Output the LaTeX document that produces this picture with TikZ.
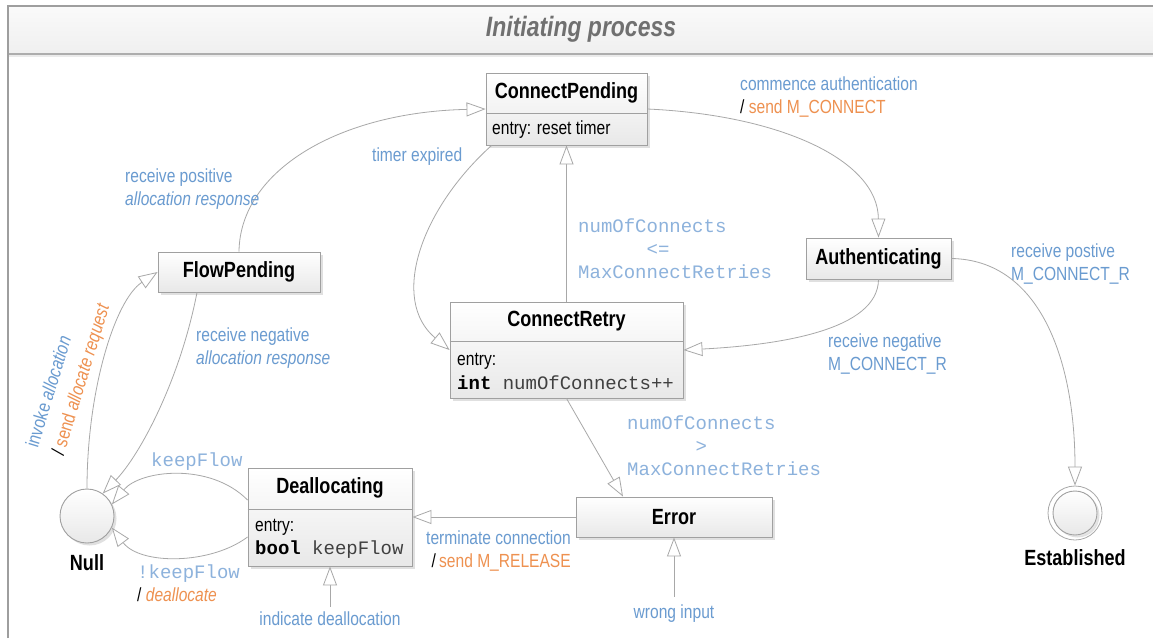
\documentclass[tikz,border=0pt]{standalone}
\usepackage{fontspec}
\setmainfont{Liberation Sans}[FakeStretch=0.82]
\setmonofont{Liberation Mono}
\usetikzlibrary{arrows.meta,shadows,calc}

\definecolor{lblue}{HTML}{6A9BD0}
\definecolor{lorange}{HTML}{EE9150}
\definecolor{mblue}{HTML}{8DB2DC}
\definecolor{lgray}{HTML}{A8A8A8}
\definecolor{bgray}{HTML}{A0A0A0}
\definecolor{tgray}{HTML}{707070}

\tikzset{
  statebox/.style={draw=bgray, line width=0.9pt, top color=white, bottom color=black!9,
    drop shadow={shadow xshift=2.5pt, shadow yshift=-2.5pt, fill=black!12, opacity=1},
    inner sep=0pt, font=\fontsize{22}{26}\selectfont\bfseries},
  sname/.style={font=\fontsize{22}{26}\selectfont\bfseries, text=black, inner sep=0pt},
  entrytxt/.style={font=\fontsize{19}{23.5}\selectfont, text=black, align=left, inner sep=0pt, anchor=west},
  lbl/.style={font=\fontsize{19}{23}\selectfont, text=lblue, align=left, inner sep=0pt},
  mlbl/.style={font=\fontsize{19}{23}\selectfont\ttfamily, text=mblue, align=left, inner sep=0pt},
  conn/.style={draw=lgray, line width=0.8pt, -{Triangle[length=19pt,width=14pt,fill=white,line width=0.8pt]}},
  divider/.style={draw=bgray, line width=0.9pt},
}

\begin{document}
\begin{tikzpicture}[x=1pt,y=-1pt]
\useasboundingbox (0,0) rectangle (1153,638);
% frame and header
\fill[white] (0,0) rectangle (1153,638);
\shade[top color=black!2, bottom color=black!6] (8,6) rectangle (1153,53);
\fill[black!8] (8,54.5) rectangle (1153,57);
\draw[black!32, line width=1.8pt] (8,54) -- (1153,54);
\draw[black!38, line width=1.2pt] (8,638) -- (8,6) -- (1153,6);
\node[font=\fontsize{28}{32}\selectfont\bfseries\itshape, text=tgray, inner sep=0pt] (title) at (581,29) {Initiating process};

% states
\node[statebox, minimum width=161pt, minimum height=72pt] (cp) at (566.5,109) {};
\node[sname] (cpt) at (566.5,93) {ConnectPending};
\draw[divider] (cp.west |- 0,113) -- (cp.east |- 0,113);
\node[entrytxt] (cpe) at (492,130) {entry: reset timer};

\node[statebox, minimum width=162pt, minimum height=40pt] (fp) at (239,272) {FlowPending};
\node[statebox, minimum width=145pt, minimum height=41pt] (auth) at (878.5,258.5) {Authenticating};

\node[statebox, minimum width=233pt, minimum height=96pt] (cr) at (566.5,350) {};
\node[sname] (crt) at (566.5,321) {ConnectRetry};
\draw[divider] (cr.west |- 0,341) -- (cr.east |- 0,341);
\node[entrytxt] (cre) at (457,371.5) {entry:\\{\ttfamily\textbf{int} \color{black!75}numOfConnects++}};

\node[statebox, minimum width=164pt, minimum height=98pt] (deal) at (330,517) {};
\node[sname] (dealt) at (330,488) {Deallocating};
\draw[divider] (deal.west |- 0,509) -- (deal.east |- 0,509);
\node[entrytxt] (deale) at (255,539) {entry:\\{\ttfamily\textbf{bool} \color{black!75}keepFlow}};

\node[statebox, minimum width=196pt, minimum height=40pt] (err) at (674,517) {Error};

\node[statebox, circle, minimum size=54pt] (null) at (87,516) {};
\node[sname] (nullt) at (87,563) {Null};

\node[circle, draw=lgray, line width=0.8pt, fill=white, minimum size=54pt, inner sep=0pt] (est) at (1075,513) {};
\node[statebox, circle, minimum size=44pt, drop shadow={shadow xshift=1.5pt, shadow yshift=-1.5pt, fill=black!10, opacity=1}] (esti) at (1075,513) {};
\node[sname] (estt) at (1075,558) {Established};

% connectors
\draw[conn] (null.north) .. controls (87,390) and (115,300) .. (fp.west);
\draw[conn] (fp.north) .. controls (240,170) and (340,112) .. (cp.west);
\draw[conn] ([xshift=-42pt]fp.south) .. controls (180,380) and (140,455) .. (null.55);
\draw[conn] (cp.east) .. controls (780,115) and (878,160) .. (auth.north);
\draw[conn] (auth.south) .. controls (878,330) and (780,345) .. (cr.east);
\draw[conn] (auth.east) .. controls (1040,260) and (1075,360) .. (est.north);
\draw[conn] ([xshift=6pt]cp.south west) .. controls (420,210) and (390,300) .. (cr.west);
\draw[conn] (cr.north) -- (cp.south);
\draw[conn] (cr.south) -- ([xshift=-51pt]err.north);
\draw[conn] (err.west) -- (deal.east);
\node[lbl] (wi) at (674,614) {wrong input};
\draw[conn] ([yshift=8pt]wi.north) -- (err.south);
\node[lbl] (idl) at (330,619) {indicate deallocation};
\draw[conn] ([yshift=5pt]idl.north) -- (deal.south);
\draw[conn] ([yshift=17pt]deal.west) .. controls (210,462) and (140,470) .. (null.25);
\draw[conn] ([yshift=-20pt]deal.west) .. controls (210,565) and (140,565) .. (null.-25);

% labels
\node[lbl, anchor=west] (l1) at (125,189.5) {receive positive\\\textit{allocation response}};
\node[lbl, anchor=west] (l2) at (196,348) {receive negative\\\textit{allocation response}};
\node[lbl, anchor=west] (l3) at (740,96.5) {commence authentication\\{\color{black}/} {\color{lorange}send M\_CONNECT}};
\node[lbl, anchor=west] (l4) at (372,157) {timer expired};
\node[lbl, anchor=west] (l5) at (1011,263.5) {receive postive\\M\_CONNECT\_R};
\node[lbl, anchor=west] (l6) at (828,354) {receive negative\\M\_CONNECT\_R};
\node[mlbl, anchor=west] (l7) at (578,249) {numOfConnects\\\phantom{000000}<=\\MaxConnectRetries};
\node[mlbl, anchor=west] (l8) at (627,446) {numOfConnects\\\phantom{000000}>\\MaxConnectRetries};
\node[lbl, anchor=east, align=right] (l9) at (571,550.5) {terminate connection\\{\color{black}/}\,{\color{lorange}send M\_RELEASE}};
\node[mlbl, anchor=west] (l10) at (151,462) {keepFlow};
\node[mlbl, anchor=west] (l11) at (137,583) {!keepFlow\\{\rmfamily{\color{black}/} {\itshape\color{lorange}deallocate}}};
\node[lbl, rotate=73, font=\fontsize{19}{27}\selectfont] (l12) at (69,376) {invoke \textit{allocation}\\{\color{black}/} {\color{lorange}send \textit{allocate request}}};
\end{tikzpicture}
\end{document}
